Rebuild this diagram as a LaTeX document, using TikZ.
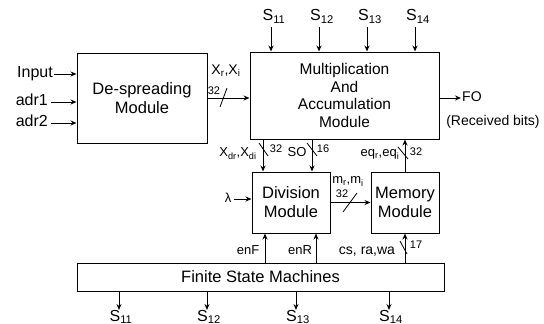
\documentclass[tikz,border=0pt]{standalone}
\usepackage{fontspec}
\setmainfont{Liberation Sans}
\usetikzlibrary{arrows.meta}
\begin{document}
\begin{tikzpicture}[x=1pt,y=-1pt,
  box/.style={draw, line width=1pt, inner sep=0pt, align=center},
  arr/.style={-{Stealth[length=6pt,width=5pt]}, line width=1pt},
  tick/.style={line width=0.8pt},
  lbl/.style={inner sep=1pt, text height=0.72em, text depth=0pt},
  fA/.style={lbl, font=\fontsize{16}{19}\selectfont},
  fB/.style={lbl, font=\fontsize{14}{16}\selectfont},
  fC/.style={lbl, font=\fontsize{13}{15}\selectfont},
  fD/.style={lbl, font=\fontsize{11}{13}\selectfont}]
\useasboundingbox (0,0) rectangle (544,324);

% blocks
\node[box, minimum width=130pt, minimum height=90pt, font=\fontsize{16.5}{19}\selectfont] (desp) at (142,98) {De-spreading\\Module};
\node[box, minimum width=189pt, minimum height=87pt, font=\fontsize{15.5}{17.8}\selectfont] (mac) at (344.5,95.5)
  {Multiplication\\And\\Accumulation\\Module};
\node[box, minimum width=78pt, minimum height=61pt, font=\fontsize{16.5}{19}\selectfont] (div) at (291,202.5) {Division\\Module};
\node[box, minimum width=68pt, minimum height=61pt, font=\fontsize{16.5}{19}\selectfont] (mem) at (405,202.5) {Memory\\Module};
\node[box, minimum width=367pt, minimum height=28pt, font=\fontsize{16.5}{19}\selectfont] (fsm) at (260.5,277) {Finite State Machines};

% inputs
\node[fA, anchor=east] (inp) at (54,74) {Input};
\node[fA, anchor=east] (a1) at (49,102) {adr1};
\node[fA, anchor=east] (a2) at (49,123) {adr2};
\draw[arr] (inp.east) -- (inp.east -| desp.west);
\draw[arr] ([xshift=2pt]a1.east) -- (a1.east -| desp.west);
\draw[arr] ([xshift=2pt]a2.east) -- (a2.east -| desp.west);

% despreading -> MAC
\draw[arr] (desp.east) -- (desp.east -| mac.west);
\node[fB] (xri) at (226,71) {X\textsubscript{r},X\textsubscript{i}};
\node[fD] (n32a) at (214,91) {32};
\draw[tick] (220,107) -- (227,88);

% top S inputs
\foreach \x/\n in {271/11, 319/12, 367/13, 415/14}{
  \node[fA] (st\n) at (\x+3,17) {S\textsubscript{\n}};
  \coordinate (tt\n) at (\x,27);
  \draw[arr] (tt\n) -- (tt\n |- mac.north);
}

% bottom S outputs
\foreach \x/\n in {119/11, 207/12, 296/13, 389/14}{
  \coordinate (bt\n) at (\x,310);
  \draw[arr] (bt\n |- fsm.south) -- (bt\n);
  \node[fA, anchor=north] (sb\n) at (\x+2,313) {S\textsubscript{\n}};
}

% FO
\node[fB, anchor=west] (fo) at (461,98) {FO};
\draw[arr] (fo.west -| mac.east) -- (fo.west);
\node[fB] (rb) at (493,122) {(Received bits)};

% MAC -> Division
\coordinate (cx) at (263,0);
\draw[arr] (cx |- mac.south) -- (cx |- div.north);
\node[fC] (xd) at (238,153) {X\textsubscript{dr},X\textsubscript{di}};
\node[fD] (n32b) at (276,149) {32};
\draw[tick] (259,143) -- (268,156);

\coordinate (cso) at (312,0);
\draw[arr] (cso |- mac.south) -- (cso |- div.north);
\node[fC] (so) at (297,153) {SO};
\node[fD] (n16) at (323,149) {16};
\draw[tick] (307,143) -- (317,156);

% Memory -> MAC
\coordinate (ceq) at (405,0);
\draw[arr] (ceq |- mem.north) -- (ceq |- mac.south);
\node[fC] (eq) at (380,153) {eq\textsubscript{r},eq\textsubscript{i}};
\node[fD] (n32c) at (416,152) {32};
\draw[tick] (398,147) -- (408,159);

% lambda
\node[fC] (lam) at (228,199) {λ};
\draw[arr] ([xshift=2pt]lam.east) -- (lam.east -| div.west);

% Division -> Memory
\draw[arr] (div.east) -- (div.east -| mem.west);
\node[fC] (mri) at (348,180) {m\textsubscript{r},m\textsubscript{i}};
\node[fD] (n32d) at (342,194) {32};
\draw[tick] (343,212) -- (357,193);

% FSM -> Division / Memory
\coordinate (cf) at (265,0);
\draw[arr] (cf |- fsm.north) -- (cf |- div.south);
\node[fC] (enf) at (248,251) {enF};
\coordinate (cr) at (316,0);
\draw[arr] (cr |- fsm.north) -- (cr |- div.south);
\node[fC] (enr) at (300,251) {enR};
\coordinate (cc) at (405,0);
\draw[arr] (cc |- fsm.north) -- (cc |- mem.south);
\node[fB] (cs) at (367,251) {cs, ra,wa};
\node[fD] (n17) at (416,245) {17};
\draw[tick] (400,241) -- (407,254);
\end{tikzpicture}
\end{document}
